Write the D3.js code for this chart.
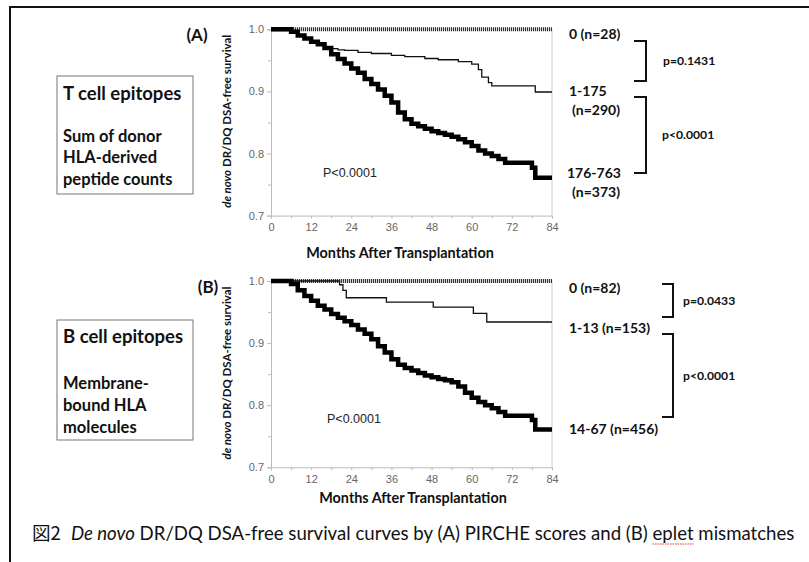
<!DOCTYPE html>
<html>
<head>
<meta charset="utf-8">
<script src="https://d3js.org/d3.v7.min.js"></script>
<style>
  body { margin: 0; background: #fff; }
  svg { display: block; }
  .tick text { font-family: 'Liberation Sans', Arial, sans-serif; font-size: 11px; fill: #666; }
  .axis path, .axis line { stroke: #bbb; }
  .cal { font-family: Lato, 'Open Sans', sans-serif; font-weight: bold; fill: #111; }
</style>
</head>
<body>
<script>
// x / y ticks
const xTicks = [0, 12, 24, 36, 48, 60, 72, 84];
const xMinor = [6, 18, 30, 42, 54, 66, 78];
const yTicks = [0.7, 0.8, 0.9, 1.0];
const yMinor = [0.75, 0.85, 0.95];

// Panel A: PIRCHE score groups
const monthsA0 = [0, 84];
const survA0 = [1.0, 1.0];
const monthsA1 = [0, 6, 8, 10, 12, 14, 16, 18, 20, 22, 26, 30, 36, 40, 46, 50, 56, 60, 62, 63, 65, 66, 79, 84];
const survA1 = [1.0, 0.997, 0.99, 0.985, 0.98, 0.977, 0.972, 0.969, 0.967, 0.966, 0.963, 0.961, 0.958, 0.956, 0.953, 0.951, 0.948, 0.944, 0.935, 0.923, 0.914, 0.909, 0.899, 0.899];
const monthsA2 = [0, 6, 8, 10, 12, 14, 16, 18, 20, 22, 24, 26, 28, 30, 32, 34, 36, 38, 40, 42, 44, 46, 48, 50, 52, 54, 56, 58, 60, 62, 64, 66, 68, 70, 78, 79, 84];
const survA2 = [1.0, 0.996, 0.99, 0.985, 0.98, 0.976, 0.97, 0.96, 0.952, 0.945, 0.937, 0.93, 0.92, 0.912, 0.903, 0.893, 0.882, 0.866, 0.855, 0.848, 0.844, 0.84, 0.836, 0.833, 0.83, 0.827, 0.823, 0.818, 0.812, 0.805, 0.8, 0.796, 0.791, 0.785, 0.777, 0.761, 0.761];

// Panel B: eplet mismatch groups
const monthsB0 = [0, 84];
const survB0 = [1.0, 1.0];
const monthsB1 = [0, 20.5, 21.5, 22.5, 34.5, 48.5, 60.5, 64.5, 84];
const survB1 = [1.0, 0.994, 0.985, 0.973, 0.966, 0.958, 0.948, 0.934, 0.934];
const monthsB2 = [0, 6, 8, 10, 12, 14, 16, 18, 20, 22, 24, 26, 28, 30, 32, 34, 36, 38, 40, 42, 44, 46, 48, 50, 52, 54, 56, 58, 60, 62, 64, 66, 68, 70, 78, 79, 84];
const survB2 = [1.0, 0.995, 0.985, 0.976, 0.968, 0.96, 0.954, 0.947, 0.941, 0.935, 0.929, 0.922, 0.915, 0.906, 0.895, 0.885, 0.874, 0.865, 0.86, 0.856, 0.852, 0.848, 0.845, 0.842, 0.84, 0.837, 0.83, 0.82, 0.812, 0.805, 0.8, 0.795, 0.789, 0.783, 0.776, 0.761, 0.761];

const W = 809, H = 562;
const svg = d3.select('body').append('svg').attr('width', W).attr('height', H);

// outer frame (left + top edges visible)
svg.append('path').attr('d', `M10,${H} V7 H${W}`)
  .attr('fill', 'none').attr('stroke', '#111').attr('stroke-width', 2);

const zip = (m, s) => m.map((d, i) => ({ t: d, s: s[i] }));

function drawPanel(p) {
  const x = d3.scaleLinear().domain([0, 84]).range([271, 552]);
  const y = d3.scaleLinear().domain([0.7, 1.0]).range([p.top + 186.3, p.top]);
  const g = svg.append('g');

  // plot frame: right edge
  g.append('line').attr('x1', 552).attr('x2', 552).attr('y1', p.top).attr('y2', y(0.7))
    .attr('stroke', '#ccc');

  // axes
  g.append('g').attr('class', 'axis').attr('transform', `translate(0,${y(0.7)})`)
    .call(d3.axisBottom(x).tickValues(xTicks).tickSize(3).tickPadding(5));
  g.append('g').attr('class', 'axis').attr('transform', `translate(0,${y(0.7)})`)
    .call(d3.axisBottom(x).tickValues(xMinor).tickSize(3).tickFormat(''))
    .select('.domain').remove();
  g.append('g').attr('class', 'axis').attr('transform', 'translate(271,0)')
    .call(d3.axisLeft(y).tickValues(yTicks).tickFormat(d3.format('.1f')).tickSize(4).tickPadding(3));
  g.append('g').attr('class', 'axis').attr('transform', 'translate(271,0)')
    .call(d3.axisLeft(y).tickValues(yMinor).tickSize(3).tickFormat(''))
    .select('.domain').remove();

  const line = d3.line().x(d => x(d.t)).y(d => y(d.s)).curve(d3.curveStepAfter);

  // group "0": flat at 1.0 with dense censor marks
  g.append('path').datum(zip(p.m0, p.s0)).attr('d', line)
    .attr('fill', 'none').attr('stroke', '#333').attr('stroke-width', 4)
    .attr('stroke-dasharray', '1.2,0.8');
  g.append('path').datum(zip(p.m1, p.s1)).attr('d', line)
    .attr('fill', 'none').attr('stroke', '#111').attr('stroke-width', 1.3);
  g.append('path').datum(zip(p.m2, p.s2)).attr('d', line)
    .attr('fill', 'none').attr('stroke', '#000').attr('stroke-width', 4.5)
    .attr('stroke-linejoin', 'miter');

  // axis titles
  g.append('text').attr('class', 'cal').attr('x', p.xtX).attr('y', y(0.7) + p.xtDy)
    .attr('text-anchor', 'middle').style('font-size', '14.4px').text('Months After Transplantation');
  const yt = g.append('text').attr('class', 'cal')
    .attr('transform', `translate(231,${p.top + 92}) rotate(-90)`)
    .attr('text-anchor', 'middle').style('font-size', '11.5px');
  yt.append('tspan').style('font-style', 'italic').text('de novo');
  yt.append('tspan').text(' DR/DQ DSA-free survival');

  // panel letter
  g.append('text').attr('class', 'cal').attr('x', p.letterX).attr('y', p.top + 12)
    .attr('text-anchor', 'middle').style('font-size', '17px').text(p.letter);

  // in-plot p value
  g.append('text').attr('x', p.pX).attr('y', p.pY)
    .style('font-family', "'Liberation Sans', Arial, sans-serif").style('font-size', '12.5px')
    .attr('fill', '#222').text('P<0.0001');

  // group labels
  p.labels.forEach(l => {
    g.append('text').attr('class', 'cal').attr('x', l[0]).attr('y', l[1])
      .style('font-size', '14px').text(l[2]);
  });

  // brackets
  p.brackets.forEach(b => {
    g.append('path').attr('d', `M${b.x0},${b.y0} H${b.x1} V${b.y1} H${b.x0}`)
      .attr('fill', 'none').attr('stroke', '#111').attr('stroke-width', 2);
    g.append('text').attr('class', 'cal').attr('x', b.tx).attr('y', (b.y0 + b.y1) / 2 + 4)
      .style('font-size', '12.2px').text(b.label);
  });

  // left box
  g.append('rect').attr('x', 57).attr('y', p.box[1]).attr('width', 136).attr('height', p.box[2])
    .attr('fill', '#fff').attr('stroke', '#777').attr('stroke-width', 1);
  p.boxText.forEach((t, i) => {
    g.append('text').attr('class', 'cal').attr('x', 63).attr('y', t[0])
      .style('font-size', i === 0 ? '18.5px' : '16.5px').text(t[1]);
  });
}

drawPanel({
  top: 29.3, letter: '(A)', letterX: 197, xtX: 400, xtDy: 42, pX: 323, pY: 177,
  m0: monthsA0, s0: survA0, m1: monthsA1, s1: survA1, m2: monthsA2, s2: survA2,
  labels: [[569, 39, '0 (n=28)'], [569, 96, '1-175'], [572, 115, '(n=290)'],
           [567, 178, '176-763'], [572, 197, '(n=373)']],
  brackets: [{ x0: 634, x1: 646, y0: 41, y1: 81, tx: 663, label: 'p=0.1431' },
             { x0: 634, x1: 646, y0: 97, y1: 173, tx: 662, label: 'p<0.0001' }],
  box: [57, 76, 118],
  boxText: [[99.5, 'T cell epitopes'], [141.5, 'Sum of donor'], [163, 'HLA-derived'], [184.5, 'peptide counts']]
});

drawPanel({
  top: 281, letter: '(B)', letterX: 208, xtX: 413, xtDy: 36, pX: 327, pY: 423,
  m0: monthsB0, s0: survB0, m1: monthsB1, s1: survB1, m2: monthsB2, s2: survB2,
  labels: [[569, 292.5, '0 (n=82)'], [569, 332.5, '1-13 (n=153)'], [569, 433.5, '14-67 (n=456)']],
  brackets: [{ x0: 662, x1: 673, y0: 284, y1: 317, tx: 683, label: 'p=0.0433' },
             { x0: 662, x1: 673, y0: 334, y1: 417, tx: 683, label: 'p<0.0001' }],
  box: [57, 320, 120],
  boxText: [[343, 'B cell epitopes'], [388.5, 'Membrane-'], [410.5, 'bound HLA'], [432.5, 'molecules']]
});

// caption
const cap = svg.append('text').attr('x', 32).attr('y', 539.5)
  .style('font-family', "Lato, 'Noto Sans CJK JP', sans-serif").style('font-size', '18.6px').attr('fill', '#111');
cap.append('tspan').style('font-family', "'Noto Sans CJK JP', sans-serif").text('図2');
cap.append('tspan').attr('dx', 10).style('font-style', 'italic').text('De novo');
cap.append('tspan').text(' DR/DQ DSA-free survival curves by (A) PIRCHE scores and (B) ');
cap.append('tspan').text('eplet');
cap.append('tspan').text(' mismatches');

// spell-check style underline under "eplet"
const full = cap.text();
const i0 = full.indexOf('eplet');
const node = cap.node();
const ex0 = node.getStartPositionOfChar(i0).x;
const ex1 = node.getEndPositionOfChar(i0 + 4).x;
svg.append('line').attr('x1', ex0).attr('x2', ex1).attr('y1', 544).attr('y2', 544)
  .attr('stroke', '#e03030').attr('stroke-width', 1.2).attr('stroke-dasharray', '1.5,1');
</script>
</body>
</html>
